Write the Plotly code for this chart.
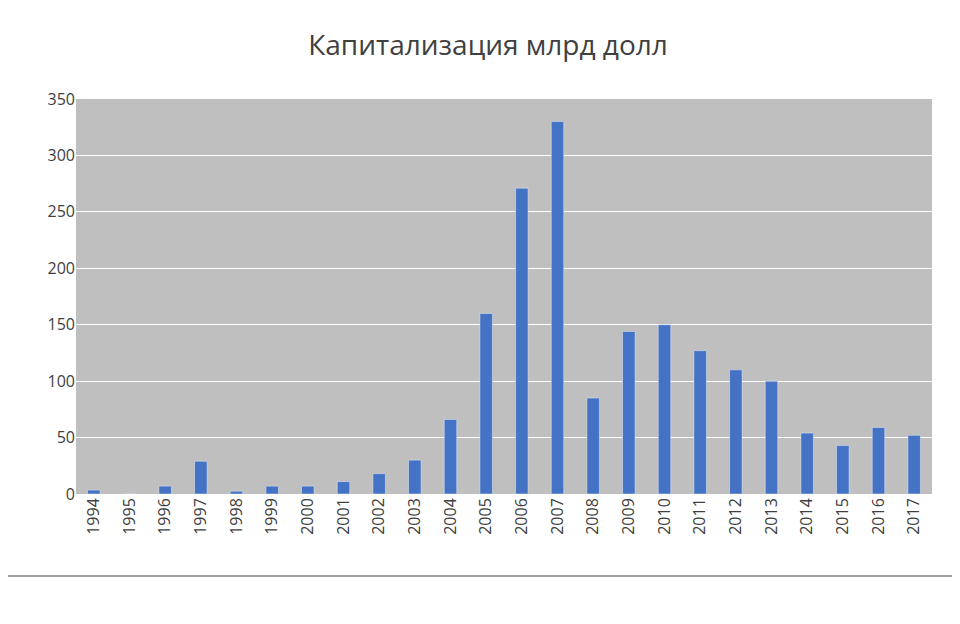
import plotly.graph_objects as go

years = [str(y) for y in range(1994, 2018)]
values = [3.5, 0.3, 7, 29, 2.5, 7, 7, 11, 18, 30, 66, 160, 271, 330, 85, 144, 150, 127, 110, 100, 54, 43, 59, 52]

fig = go.Figure(go.Bar(x=years, y=values, marker_color="#4472c4", width=0.35))
fig.update_layout(
    width=960, height=624,
    margin=dict(l=68, r=36, t=91, b=138),
    paper_bgcolor="white", plot_bgcolor="#bfbfbf",
    title=dict(text="Капитализация млрд долл", x=0.5, xanchor="center", y=0.94, yanchor="middle",
               font=dict(family="Open Sans", size=28, color="#404040")),
    font=dict(family="Open Sans", size=16, color="#404040"),
    showlegend=False,
    shapes=[dict(type="rect", xref="paper", yref="paper", x0=-0.0864, x1=1.0304,
                 y0=-0.2076, y1=1.2456, line=dict(color="#808080", width=1.5))],
)
fig.update_xaxes(tickangle=-90, showgrid=False, ticks="")
fig.update_yaxes(range=[0, 350], dtick=50, gridcolor="white", gridwidth=1, zeroline=False)
fig.write_html("out.html")
